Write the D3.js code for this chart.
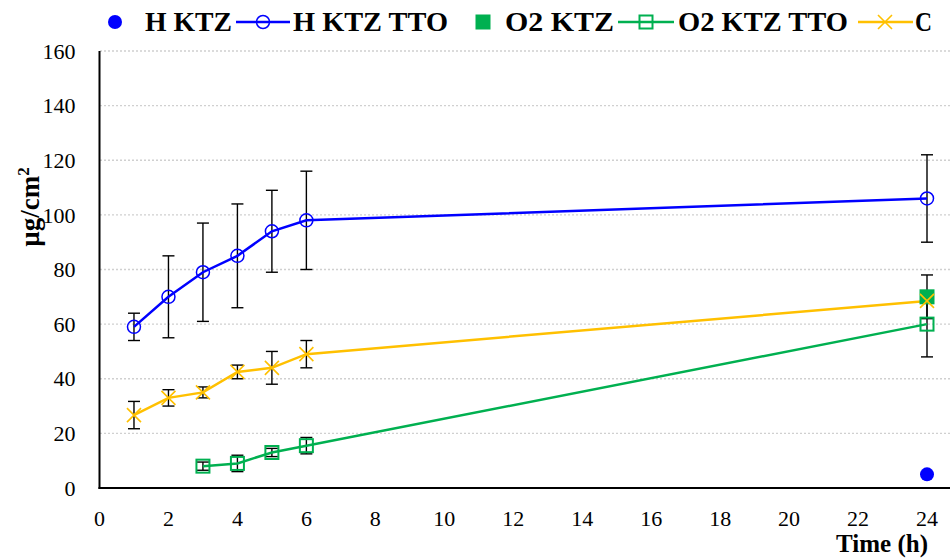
<!DOCTYPE html>
<html>
<head>
<meta charset="utf-8">
<script src="https://cdn.jsdelivr.net/npm/d3@7"></script>
</head>
<body style="margin:0">
<svg id="permeation" width="950" height="559"></svg>
<script>
// Time points (h)
const hours = [1, 2, 3, 4, 5, 6, 24];
const hoursO2 = [3, 4, 5, 6, 24];

// Permeated amount (µg/cm²) and standard deviations
const hKtz = [{ x: 24, y: 5 }];
const hKtzTtoMean = [59, 70, 79, 85, 94, 98, 106];
const hKtzTtoErr = [5, 15, 18, 19, 15, 18, 16];

const o2Ktz = [{ x: 24, y: 70 }];
const o2KtzErr = [8];
const o2KtzTtoMean = [8, 9, 13, 15.5, 60];
const o2KtzTtoErr = [1.5, 3, 1.5, 3, 12];

const cMean = [26.7, 33, 35, 42.5, 44, 49, 68.5];
const cErr = [5, 3, 2, 2.5, 6, 5, 0];

const yTicks = [0, 20, 40, 60, 80, 100, 120, 140, 160];
const xTicks = [0, 2, 4, 6, 8, 10, 12, 14, 16, 18, 20, 22, 24];

const colors = { blue: "#0000FF", green: "#00B050", yellow: "#FFC000" };
const SERIF = '"Liberation Serif", "Times New Roman", "DejaVu Serif"';

// Apply the serif family with priority so nothing else overrides it
function serif(sel) {
  sel.each(function () { this.style.setProperty("font-family", SERIF, "important"); });
  return sel;
}

const svg = d3.select("#permeation");
const W = 950;

const x = d3.scaleLinear().domain([0, 24]).range([99.5, 927]);
const y = d3.scaleLinear().domain([0, 160]).range([488, 51]);

// Gridlines
svg.append("g").selectAll("line").data(yTicks.filter(d => d > 0)).join("line")
  .attr("x1", 100).attr("x2", W)
  .attr("y1", d => y(d)).attr("y2", d => y(d))
  .attr("stroke", "#d0d0d0").attr("stroke-width", 1.3)
  .attr("stroke-dasharray", "2,2");

// Axis lines
svg.append("line").attr("x1", x(0)).attr("x2", x(0)).attr("y1", y(160)).attr("y2", y(0) + 1)
  .attr("stroke", "#000").attr("stroke-width", 2);
svg.append("line").attr("x1", x(0) - 1).attr("x2", W).attr("y1", y(0)).attr("y2", y(0))
  .attr("stroke", "#000").attr("stroke-width", 2);

// Tick labels
serif(svg.append("g").selectAll("text").data(yTicks).join("text")
  .attr("x", x(0) - 24).attr("y", d => y(d)).attr("dy", "0.35em")
  .attr("text-anchor", "end").attr("font-size", 22)
  .text(d => d));
serif(svg.append("g").selectAll("text").data(xTicks).join("text")
  .attr("x", d => x(d)).attr("y", y(0) + 38)
  .attr("text-anchor", "middle").attr("font-size", 22)
  .text(d => d));

// Axis titles
serif(svg.append("text")
  .attr("x", 928).attr("y", 552)
  .attr("text-anchor", "end")
  .attr("font-size", 25).attr("font-weight", "bold")
  .text("Time (h)"));

const yl = serif(svg.append("text")
  .attr("transform", "translate(39,207) rotate(-90)")
  .attr("text-anchor", "middle")
  .attr("font-size", 27).attr("font-weight", "bold"));
yl.append("tspan").text("µg/cm");
yl.append("tspan").attr("font-size", 17).attr("dy", -10).text("2");

// Error bars
function errorBars(points, err) {
  const g = svg.append("g");
  points.forEach((p, i) => {
    if (!err[i]) return;
    const y1 = y(p.y - err[i]), y2 = y(p.y + err[i]);
    g.append("line").attr("x1", x(p.x)).attr("x2", x(p.x)).attr("y1", y1).attr("y2", y2)
      .attr("stroke", "#000").attr("stroke-width", 1.4);
    [y1, y2].forEach(yy => g.append("line")
      .attr("x1", x(p.x) - 6).attr("x2", x(p.x) + 6).attr("y1", yy).attr("y2", yy)
      .attr("stroke", "#000").attr("stroke-width", 1.4));
  });
}

const hTto = hours.map((h, i) => ({ x: h, y: hKtzTtoMean[i] }));
const o2Tto = hoursO2.map((h, i) => ({ x: h, y: o2KtzTtoMean[i] }));
const cPts = hours.map((h, i) => ({ x: h, y: cMean[i] }));

errorBars(hTto, hKtzTtoErr);
errorBars(cPts, cErr);
errorBars(o2Tto, o2KtzTtoErr);
errorBars(o2Ktz, o2KtzErr);

const line = d3.line().x(d => x(d.x)).y(d => y(d.y));

// Series lines
svg.append("path").datum(hTto).attr("d", line)
  .attr("fill", "none").attr("stroke", colors.blue).attr("stroke-width", 2.5);
svg.append("path").datum(o2Tto).attr("d", line)
  .attr("fill", "none").attr("stroke", colors.green).attr("stroke-width", 2.5);
svg.append("path").datum(cPts).attr("d", line)
  .attr("fill", "none").attr("stroke", colors.yellow).attr("stroke-width", 2.5);

// Markers
function openCircle(g, cx, cy) {
  g.append("circle").attr("cx", cx).attr("cy", cy).attr("r", 6.5)
    .attr("fill", "none").attr("stroke", colors.blue).attr("stroke-width", 1.5);
}
function openSquare(g, cx, cy) {
  g.append("rect").attr("x", cx - 6.5).attr("y", cy - 6.5).attr("width", 13).attr("height", 13)
    .attr("fill", "none").attr("stroke", colors.green).attr("stroke-width", 2);
}
function filledSquare(g, cx, cy) {
  g.append("rect").attr("x", cx - 7.5).attr("y", cy - 7.5).attr("width", 15).attr("height", 15)
    .attr("fill", colors.green);
}
function filledCircle(g, cx, cy) {
  g.append("circle").attr("cx", cx).attr("cy", cy).attr("r", 7).attr("fill", colors.blue);
}
function cross(g, cx, cy) {
  const s = 7;
  g.append("path").attr("d", `M${cx - s},${cy - s}L${cx + s},${cy + s}M${cx - s},${cy + s}L${cx + s},${cy - s}`)
    .attr("stroke", colors.yellow).attr("stroke-width", 1.6);
}

const mk = svg.append("g");
hTto.forEach(d => openCircle(mk, x(d.x), y(d.y)));
o2Ktz.forEach(d => filledSquare(mk, x(d.x), y(d.y)));
o2Tto.forEach(d => openSquare(mk, x(d.x), y(d.y)));
cPts.forEach(d => cross(mk, x(d.x), y(d.y)));
hKtz.forEach(d => filledCircle(mk, x(d.x), y(d.y)));

// Legend
const lg = svg.append("g");
const ly = 22;
function legendText(x0, w, t) {
  serif(lg.append("text").attr("x", x0).attr("y", ly + 9)
    .attr("font-size", 27).attr("font-weight", "bold")
    .attr("textLength", w).attr("lengthAdjust", "spacingAndGlyphs").text(t));
}
filledCircle(lg, 115, ly);
legendText(145, 87, "H KTZ");
lg.append("line").attr("x1", 236).attr("x2", 290).attr("y1", ly).attr("y2", ly)
  .attr("stroke", colors.blue).attr("stroke-width", 2.5);
openCircle(lg, 263, ly);
legendText(293, 155, "H KTZ TTO");
filledSquare(lg, 483, ly);
legendText(505, 109, "O2 KTZ");
lg.append("line").attr("x1", 618).attr("x2", 674).attr("y1", ly).attr("y2", ly)
  .attr("stroke", colors.green).attr("stroke-width", 2.5);
openSquare(lg, 646, ly);
legendText(678, 170, "O2 KTZ TTO");
lg.append("line").attr("x1", 858).attr("x2", 913).attr("y1", ly).attr("y2", ly)
  .attr("stroke", colors.yellow).attr("stroke-width", 2.5);
cross(lg, 885, ly);
legendText(915, 17, "C");
</script>
</body>
</html>
